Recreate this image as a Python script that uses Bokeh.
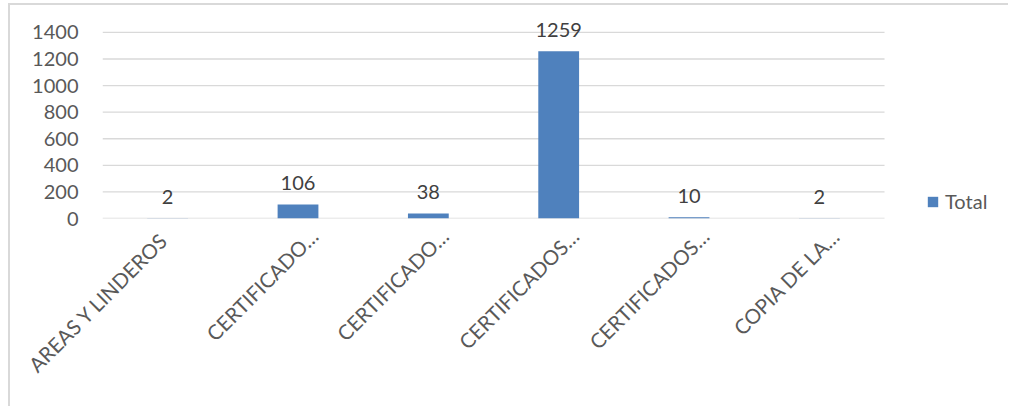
import math
from bokeh.plotting import figure
from bokeh.models import Range1d, Legend, LegendItem, ColumnDataSource
from bokeh.embed import file_html
from bokeh.resources import INLINE
from bokeh.core.properties import value

# ---- data ----
categories = ["AREAS  Y LINDEROS", "CERTIFICADO…", "CERTIFICADO…",
              "CERTIFICADOS…", "CERTIFICADOS…", "COPIA DE LA…"]
totals = [2, 106, 38, 1259, 10, 2]
y_ticks = [0, 200, 400, 600, 800, 1000, 1200, 1400]
series_name = "Total"

# ---- style / layout ----
FONT = "Lato"
BAR_COLOR = "#4F81BD"
GRID_COLOR = "#d9d9d9"
W, H = 1000, 403
LABEL_SHIFTS = [0.0, 0.125, 0.125, 0.125, 0.125, 0.125]
X_END = 6.813  # extra room at the right of the categories for the legend

n = len(categories)
xs = [i + 0.5 for i in range(n)]
src = ColumnDataSource(dict(x=xs, total=totals, label=[str(v) for v in totals]))
grid_src = ColumnDataSource(dict(x0=[0] * len(y_ticks), x1=[n] * len(y_ticks),
                                 y=y_ticks))

p = figure(width=W, height=H, output_backend="svg", toolbar_location=None,
           x_range=Range1d(0, X_END), y_range=Range1d(0, 1550),
           min_border_left=92, min_border_right=20, min_border_top=7,
           min_border_bottom=190)
p.outline_line_color = None
p.background_fill_color = "white"
p.border_fill_color = "white"
p.styles = {"margin-left": "8px", "margin-top": "3px",
            "border-left": "2px solid #d9d9d9",
            "border-top": "2px solid #d9d9d9"}

# horizontal gridlines only across the category area
p.segment(x0="x0", x1="x1", y0="y", y1="y", source=grid_src,
          line_color=GRID_COLOR, line_width=1.3)

r = p.vbar(x="x", top="total", bottom=0, width=0.313, source=src,
           fill_color=BAR_COLOR, line_color=None)
p.text(x="x", y="total", text="label", source=src, text_align="center",
       text_baseline="alphabetic", y_offset=-21, text_font=value(FONT),
       text_font_size="20px", text_color="#404040")

p.xgrid.visible = False
p.ygrid.visible = False

# y axis
p.yaxis.ticker = y_ticks
p.yaxis.axis_line_color = None
p.yaxis.major_tick_line_color = None
p.yaxis.minor_tick_line_color = None
p.yaxis.major_label_standoff = 18
p.yaxis.major_label_text_font = FONT
p.yaxis.major_label_text_font_size = "20px"
p.yaxis.major_label_text_color = "#595959"

# x axis
tick_pos = [x + s for x, s in zip(xs, LABEL_SHIFTS)]
p.xaxis.ticker = tick_pos
p.xaxis.major_label_overrides = {t: c for t, c in zip(tick_pos, categories)}
p.xaxis.major_label_orientation = math.pi / 4
p.xaxis.axis_line_color = None
p.xaxis.major_tick_line_color = None
p.xaxis.minor_tick_line_color = None
p.xaxis.major_label_standoff = 8
p.xaxis.major_label_text_font = FONT
p.xaxis.major_label_text_font_size = "20.5px"
p.xaxis.major_label_text_color = "#595959"

# legend
legend = Legend(items=[LegendItem(label=series_name, renderers=[r])],
                location=(824, 5), padding=0, margin=0, spacing=0,
                glyph_width=13, glyph_height=13, label_height=13,
                label_standoff=6, border_line_color=None,
                background_fill_alpha=0, label_text_font=FONT,
                label_text_font_size="20px", label_text_color="#595959")
p.add_layout(legend)

open("out.html", "w").write(file_html(p, INLINE))
